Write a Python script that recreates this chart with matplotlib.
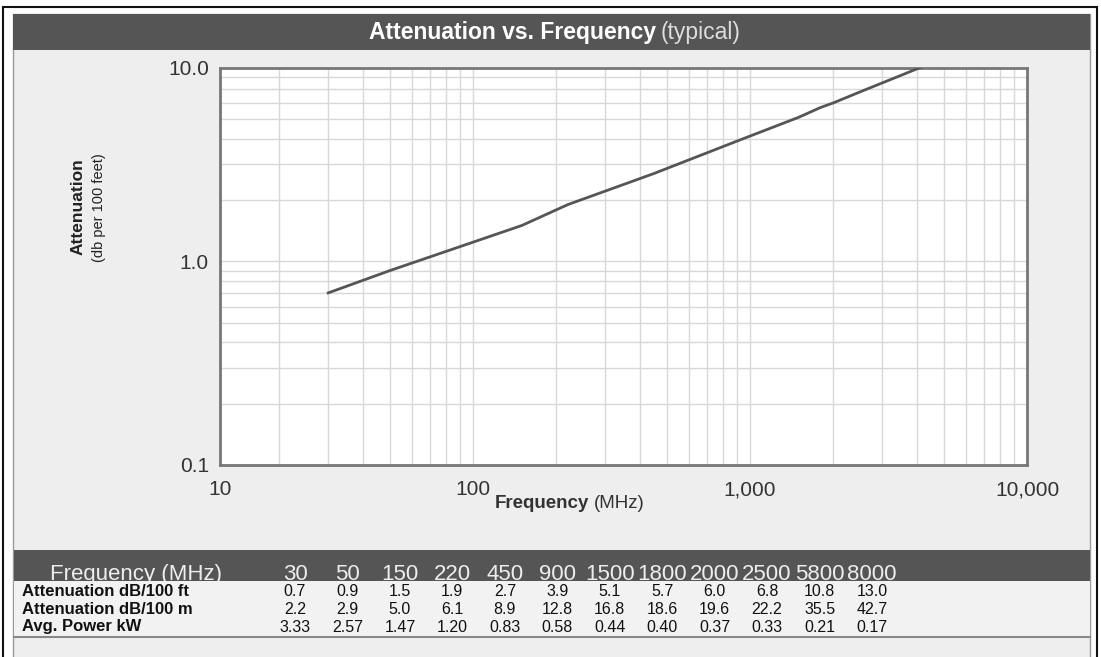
import numpy as np
import matplotlib
matplotlib.use('Agg')
import matplotlib.pyplot as plt
from matplotlib.patches import Rectangle
from matplotlib.ticker import NullFormatter, LogLocator

plt.rcParams['font.family'] = ['Liberation Sans', 'DejaVu Sans']

# table data
freq_mhz = [30, 50, 150, 220, 450, 900, 1500, 1800, 2000, 2500, 5800, 8000]
att_db_100ft = [0.7, 0.9, 1.5, 1.9, 2.7, 3.9, 5.1, 5.7, 6.0, 6.8, 10.8, 13.0]
att_db_100m = ['2.2', '2.9', '5.0', '6.1', '8.9', '12.8', '16.8', '18.6', '19.6', '22.2', '35.5', '42.7']
avg_power_kw = ['3.33', '2.57', '1.47', '1.20', '0.83', '0.58', '0.44', '0.40', '0.37', '0.33', '0.21', '0.17']
row_labels = ['Attenuation dB/100 ft', 'Attenuation dB/100 m', 'Avg. Power kW']

x_ticks = [12.2, 100, 1000, 10000]
x_tick_labels = ['10', '100', '1,000', '10,000']
y_ticks = [0.1, 1.0, 8.9]
y_tick_labels = ['0.1', '1.0', '10.0']

W, H = 1101, 657
fig = plt.figure(figsize=(W / 100, H / 100), dpi=100)
fig.patch.set_facecolor('white')


def fx(x):
    return x / W


def fy(y):
    return 1 - y / H


def box(x0, y0, x1, y1, **kw):
    fig.add_artist(Rectangle((fx(x0), fy(y1)), fx(x1) - fx(x0), fy(y0) - fy(y1),
                             transform=fig.transFigure, **kw))


# outer frame and panel
box(3, 7, 1097, 660, facecolor='none', edgecolor='#111111', lw=1.5, zorder=0)
box(13, 14, 1090, 660, facecolor='#eeeeee', edgecolor='#999999', lw=1.0, zorder=0)
box(13, 14, 1090, 50, facecolor='#555555', edgecolor='none', zorder=1)

fig.text(fx(656), fy(32), 'Attenuation vs. Frequency', color='white', fontsize=16.5,
         fontweight='bold', ha='right', va='center')
fig.text(fx(661), fy(32), '(typical)', color='#dddddd', fontsize=16.5,
         ha='left', va='center')

# chart
ax = fig.add_axes([fx(220), fy(465), fx(1027) - fx(220), fy(68) - fy(465)])
ax.set_facecolor('white')
ax.plot(freq_mhz, att_db_100ft, color='#555555', lw=2, zorder=3)
ax.set_xscale('log')
ax.set_yscale('log')
ax.set_xlim(x_ticks[0], x_ticks[-1])
ax.set_ylim(y_ticks[0], y_ticks[-1])

ax.xaxis.set_minor_locator(LogLocator(base=10, subs=np.arange(2, 10)))
ax.yaxis.set_minor_locator(LogLocator(base=10, subs=np.arange(2, 10)))
ax.xaxis.set_minor_formatter(NullFormatter())
ax.yaxis.set_minor_formatter(NullFormatter())
ax.grid(True, which='both', color='#d8d8d8', lw=1.0)
ax.set_axisbelow(True)

ax.set_xticks(x_ticks)
ax.set_xticklabels(x_tick_labels)
ax.set_yticks(y_ticks)
ax.set_yticklabels(y_tick_labels)
ax.tick_params(which='both', length=0, labelsize=15, labelcolor='#333333')
ax.tick_params(axis='x', pad=11)
ax.tick_params(axis='y', pad=8)
for s in ax.spines.values():
    s.set_color('#777777')
    s.set_linewidth(2)

fig.text(fx(589), fy(503), 'Frequency', fontsize=13.5, fontweight='bold',
         color='#333333', ha='right', va='center')
fig.text(fx(594), fy(503), '(MHz)', fontsize=13.5, color='#333333',
         ha='left', va='center')
fig.text(fx(78), fy(207), 'Attenuation', fontsize=12.5, fontweight='bold',
         color='#222222', rotation=90, ha='center', va='center')
fig.text(fx(99), fy(208), '(db per 100 feet)', fontsize=10.5,
         color='#222222', rotation=90, ha='center', va='center')

# table
col_x = np.linspace(295, 872, len(freq_mhz))
box(14, 550, 1090, 581, facecolor='#555555', edgecolor='none', zorder=1)
fig.text(fx(50), fy(580), 'Frequency (MHz)', fontsize=16, color='#eeeeee',
         ha='left', va='baseline', zorder=2)
for x, f in zip(col_x, freq_mhz):
    fig.text(fx(x), fy(580), str(f), fontsize=16, color='#eeeeee',
             ha='center', va='baseline', zorder=2)
box(14, 581, 1090, 637, facecolor='#f2f2f2', edgecolor='none', zorder=3)
fig.add_artist(plt.Line2D([fx(14), fx(1090)], [fy(637), fy(637)],
                          transform=fig.transFigure, color='#888888', lw=1.5, zorder=4))

rows = [[f'{v:.1f}' for v in att_db_100ft], att_db_100m, avg_power_kw]
row_y = [592, 610, 627]
for y, label, vals in zip(row_y, row_labels, rows):
    fig.text(fx(22), fy(y), label, fontsize=12, fontweight='bold', color='#111111',
             ha='left', va='center', zorder=5)
    for x, v in zip(col_x, vals):
        fig.text(fx(x), fy(y), v, fontsize=11.5, color='#111111',
                 ha='center', va='center', zorder=5)

fig.savefig('out.png', dpi=100)
